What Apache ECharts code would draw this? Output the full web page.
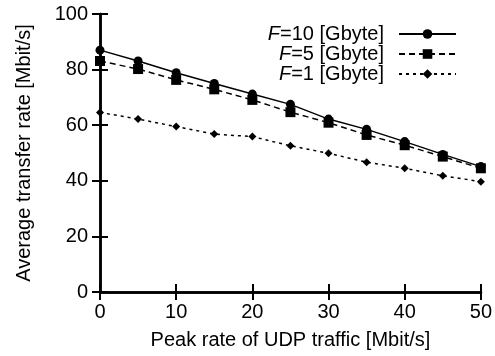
<!DOCTYPE html>
<html>
<head>
<meta charset="utf-8">
<script src="https://cdn.jsdelivr.net/npm/echarts@6/dist/echarts.min.js"></script>
<style>
  html, body { margin: 0; padding: 0; background: #fff; }
  #chart { width: 495px; height: 356px; }
</style>
</head>
<body>
<div id="chart"></div>
<script>
// Peak UDP rate (Mbit/s) on the x axis
const peakRates = [0, 5, 10, 15, 20, 25, 30, 35, 40, 45, 50];
// Average transfer rate (Mbit/s) for each file size
const rateF10 = [87.0, 83.1, 78.9, 75.0, 71.2, 67.5, 62.2, 58.5, 54.1, 49.5, 45.1];
const rateF5  = [83.1, 80.2, 76.3, 72.9, 69.1, 64.7, 60.9, 56.5, 52.8, 48.7, 44.5];
const rateF1  = [64.6, 62.2, 59.5, 56.8, 55.9, 52.6, 49.9, 46.7, 44.5, 41.8, 39.7];
const seriesNames = ['F=10 [Gbyte]', 'F=5 [Gbyte]', 'F=1 [Gbyte]'];
const xTicks = [0, 10, 20, 30, 40, 50];
const yTicks = [0, 20, 40, 60, 80, 100];

const FONT = '"Liberation Sans", Arial, Helvetica, sans-serif';
const FS = 20;
const pairs = ys => peakRates.map((x, i) => [x, ys[i]]);

// frame line plus inward ticks, used on all four sides
function frameAxis(extra) {
  return Object.assign({
    type: 'value',
    axisLine: { show: true, lineStyle: { color: '#000', width: 2.5 } },
    axisTick: { show: true, inside: true, length: 8, lineStyle: { color: '#000', width: 2 } },
    axisLabel: { show: false },
    splitLine: { show: false }
  }, extra);
}

const chart = echarts.init(document.getElementById('chart'), null, { renderer: 'canvas' });
chart.setOption({
  animation: false,
  backgroundColor: '#fff',
  grid: { left: 100, right: 14, top: 14, bottom: 64 },
  legend: {
    orient: 'vertical',
    right: 33,
    top: 19,
    align: 'right',
    itemWidth: 57,
    itemHeight: 12,
    itemGap: 0,
    data: seriesNames,
    formatter: name => '{i|F}' + name.slice(1),
    textStyle: {
      fontFamily: FONT, fontSize: FS, color: '#000', lineHeight: 20,
      padding: [0, 10, 0, 0],
      rich: { i: { fontFamily: FONT, fontSize: FS, fontStyle: 'italic', color: '#000', lineHeight: 20 } }
    }
  },
  xAxis: [
    frameAxis({
      min: 0, max: 50, interval: 10, position: 'bottom',
      name: 'Peak rate of UDP traffic [Mbit/s]', nameLocation: 'middle', nameGap: 38,
      nameTextStyle: { fontFamily: FONT, fontSize: FS, color: '#000' },
      axisLabel: { show: true, margin: 10, fontFamily: FONT, fontSize: FS, color: '#000',
                   formatter: v => xTicks.includes(v) ? String(v) : '' }
    }),
    frameAxis({ min: 0, max: 50, interval: 10, position: 'top' })
  ],
  yAxis: [
    frameAxis({
      min: 0, max: 100, interval: 20, position: 'left',
      name: 'Average transfer rate [Mbit/s]', nameLocation: 'middle', nameGap: 66,
      nameTextStyle: { fontFamily: FONT, fontSize: FS, color: '#000' },
      axisLabel: { show: true, margin: 12, fontFamily: FONT, fontSize: FS, color: '#000',
                   formatter: v => yTicks.includes(v) ? String(v) : '' }
    }),
    frameAxis({ min: 0, max: 100, interval: 20, position: 'right' })
  ],
  series: [
    {
      name: seriesNames[0], type: 'line', data: pairs(rateF10),
      symbol: 'circle', symbolSize: 9, color: '#000',
      lineStyle: { color: '#000', width: 1.5, type: 'solid' },
      itemStyle: { color: '#000' }, z: 3
    },
    {
      name: seriesNames[1], type: 'line', data: pairs(rateF5),
      symbol: 'rect', symbolSize: 10, color: '#000',
      lineStyle: { color: '#000', width: 1.5, type: [6, 4] },
      itemStyle: { color: '#000' }, z: 2
    },
    {
      name: seriesNames[2], type: 'line', data: pairs(rateF1),
      symbol: 'diamond', symbolSize: 8, color: '#000',
      lineStyle: { color: '#000', width: 1.5, type: [3, 4] },
      itemStyle: { color: '#000' }, z: 1
    }
  ]
});
</script>
</body>
</html>
